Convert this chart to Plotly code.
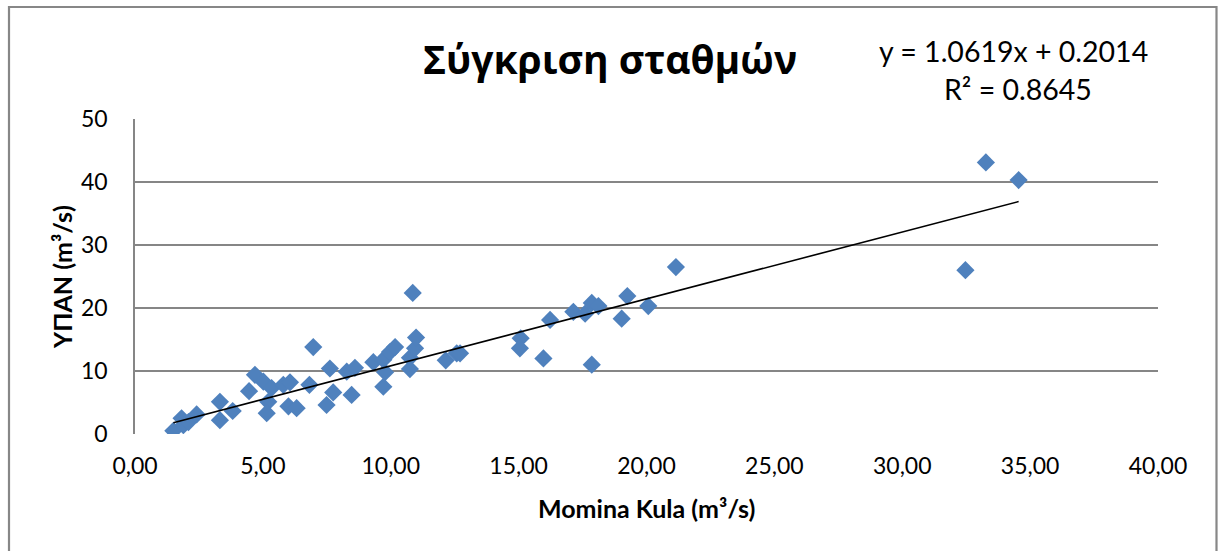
import plotly.graph_objects as go

# Daily discharge pairs: Momina Kula (x) vs ΥΠΑΝ (y), m³/s
momina_kula = [1.50, 1.82, 1.89, 2.09, 2.41, 3.32, 3.32, 3.82, 4.46, 4.69,
               5.02, 5.34, 5.21, 5.15, 5.80, 6.06, 6.00, 6.32, 6.82, 6.97,
               7.62, 7.75, 7.49, 8.28, 8.60, 8.47, 9.32, 9.71, 9.97, 10.17,
               9.78, 9.71, 10.75, 10.95, 10.99, 10.75, 10.86, 12.15, 12.58, 12.71,
               15.08, 15.05, 15.97, 16.23, 17.14, 17.60, 17.86, 18.12, 17.86, 19.03,
               19.25, 20.07, 21.15, 32.47, 33.27, 34.55]
ypan = [0.5, 2.5, 1.4, 1.9, 3.1, 5.1, 2.2, 3.65, 6.8, 9.4,
        8.3, 7.3, 5.1, 3.3, 7.8, 8.2, 4.4, 4.1, 7.8, 13.8,
        10.4, 6.6, 4.6, 9.9, 10.5, 6.2, 11.4, 11.8, 13.0, 13.8,
        9.8, 7.5, 12.1, 13.6, 15.3, 10.3, 22.4, 11.7, 12.8, 12.8,
        15.2, 13.6, 12.0, 18.1, 19.4, 19.1, 20.8, 20.3, 11.0, 18.3,
        21.9, 20.3, 26.5, 26.0, 43.1, 40.3]

# Linear trendline coefficients
slope = 1.0619
intercept = 0.2014
r_squared = 0.8645

x_ticks = [0, 5, 10, 15, 20, 25, 30, 35, 40]
x_tick_labels = ["0,00", "5,00", "10,00", "15,00", "20,00", "25,00", "30,00", "35,00", "40,00"]
y_ticks = [0, 10, 20, 30, 40, 50]

title_text = "Σύγκριση σταθμών"
x_title = "Momina Kula (m³/s)"
y_title = "ΥΠΑΝ (m³/s)"

FONT = "Lato, 'Noto Sans', sans-serif"
TITLE_FONT = "'Open Sans', 'Noto Sans', sans-serif"
GRID = "#868686"
MARKER = "#4F81BD"

x_lo, x_hi = min(momina_kula), max(momina_kula)
trend_x = [x_lo, x_hi]
trend_y = [slope * v + intercept for v in trend_x]

fig = go.Figure()
fig.add_trace(go.Scatter(
    x=momina_kula, y=ypan, mode="markers",
    marker=dict(symbol="diamond", size=14, color=MARKER, line=dict(width=0)),
    hoverinfo="x+y", showlegend=False,
))
fig.add_trace(go.Scatter(
    x=trend_x, y=trend_y, mode="lines",
    line=dict(color="black", width=1.6), showlegend=False, hoverinfo="skip",
))

# plot area in pixels: x 135..1158, y 119..434
L, R, T, B = 135, 1158, 119, 434
W, H = R - L, B - T


def px(x):
    return (x - L) / W


def py(y):
    return (B - y) / H


annotations = [
    dict(text=f"<b>{title_text}</b>", x=px(610), y=py(58), font=dict(size=39, color="black", family=TITLE_FONT)),
    dict(text=f"y = {slope:.4f}x + {intercept:.4f}", x=px(1013), y=py(51), font=dict(size=28.5, color="black", family=FONT)),
    dict(text=f"R² = {r_squared:.4f}", x=px(1018), y=py(89), font=dict(size=28.5, color="black", family=FONT)),
    dict(text=f"<b>{x_title}</b>", x=px(646), y=py(508), font=dict(size=25, color="black", family=FONT)),
    dict(text=f"<b>{y_title}</b>", x=px(62), y=py(277), textangle=-90, font=dict(size=25, color="black", family=FONT)),
]
for a in annotations:
    a.update(xref="paper", yref="paper", showarrow=False, xanchor="center", yanchor="middle")

fig.update_layout(
    width=1219, height=551,
    margin=dict(l=L, r=1219 - R, t=T, b=551 - B),
    paper_bgcolor="white", plot_bgcolor="white",
    font=dict(family=FONT, color="black"),
    annotations=annotations,
    shapes=[dict(type="rect", xref="paper", yref="paper",
                 x0=px(9), x1=px(1216.5), y0=py(570), y1=py(7),
                 line=dict(color="#878787", width=2.2), layer="below")],
)
fig.update_xaxes(
    range=[0, 40], tickvals=x_ticks, ticktext=x_tick_labels,
    showgrid=False, zeroline=False, showline=False,
    ticks="", ticklabelstandoff=16, tickfont=dict(size=23, color="black", family=FONT),
)
fig.update_yaxes(
    range=[0, 50], tickvals=y_ticks,
    showgrid=True, gridcolor=GRID, gridwidth=1.6, zeroline=False,
    showline=True, linecolor=GRID, linewidth=1.6,
    ticks="", ticklabelstandoff=21, tickfont=dict(size=23, color="black", family=FONT),
)

fig.write_html("out.html")
